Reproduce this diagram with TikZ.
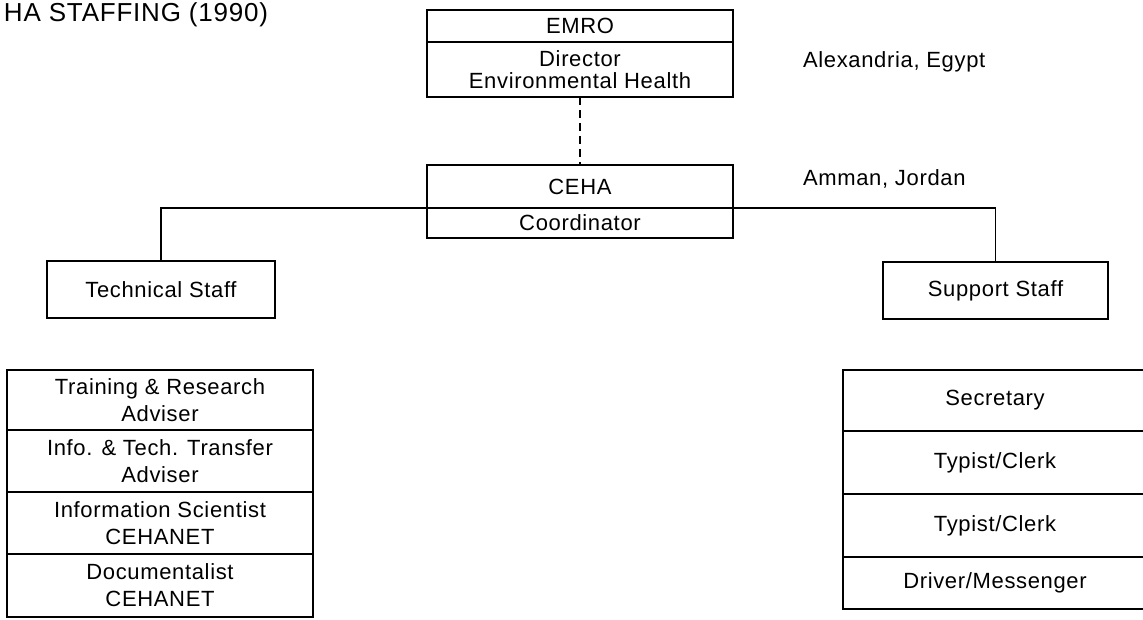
\documentclass[tikz,border=0pt]{standalone}
\usepackage{fontspec}
\setmainfont[LetterSpace=3]{Liberation Sans}
\begin{document}
\begin{tikzpicture}[x=1pt,y=-1pt,
  box/.style={draw, line width=1.6pt, rectangle, inner sep=0pt, outer sep=0pt, align=center, font=\fontsize{22}{27}\selectfont},
  lbl/.style={inner sep=0pt, outer sep=0pt, font=\fontsize{22}{27}\selectfont},
  link/.style={line width=1.6pt}]
\useasboundingbox (0,0) rectangle (1143,620);
% title
\node[lbl, anchor=base west, font=\fontsize{26}{30}\selectfont] (title) at (4,22) {HA STAFFING (1990)};
% top boxes
\node[box, minimum width=306pt, minimum height=32pt] (emro) at (580,26) {EMRO};
\node[box, minimum width=306pt, minimum height=55pt, font=\fontsize{22}{22}\selectfont] (dir) at (580,69.5) {Director\\Environmental Health};
\node[box, minimum width=306pt, minimum height=43pt] (ceha) at (580,186.5) {CEHA};
\node[box, minimum width=306pt, minimum height=30pt] (coord) at (580,223) {Coordinator};
\node[lbl, anchor=base west] (alex) at (803,68) {Alexandria, Egypt};
\node[lbl, anchor=base west] (amman) at (803,186) {Amman, Jordan};
% staff boxes
\node[box, minimum width=228pt, minimum height=57pt] (tech) at (161,289.5) {Technical Staff};
\node[box, minimum width=225pt, minimum height=57pt] (supp) at (995.5,290.5) {Support Staff};
% connectors
\draw[link, dash pattern=on 8pt off 5pt] (dir.south) -- (ceha.north);
\draw[link] (tech.north) |- (ceha.south west);
\draw[link] (supp.north) |- (ceha.south east);
% technical list
\node[box, minimum width=306pt, minimum height=60pt] (t1) at (160,400) {Training \& Research\\Adviser};
\node[box, minimum width=306pt, minimum height=62pt] (t2) at (160,461) {Info. \& Tech. Transfer\\Adviser};
\node[box, minimum width=306pt, minimum height=62pt] (t3) at (160,523) {Information Scientist\\CEHANET};
\node[box, minimum width=306pt, minimum height=63pt] (t4) at (160,585.5) {Documentalist\\CEHANET};
% support list
\node[box, minimum width=304pt, minimum height=61pt] (s1) at (995,400.5) {Secretary};
\node[box, minimum width=304pt, minimum height=63pt] (s2) at (995,462.5) {Typist/Clerk};
\node[box, minimum width=304pt, minimum height=63pt] (s3) at (995,525.5) {Typist/Clerk};
\node[box, minimum width=304pt, minimum height=52pt] (s4) at (995,583) {Driver/Messenger};
\end{tikzpicture}
\end{document}
